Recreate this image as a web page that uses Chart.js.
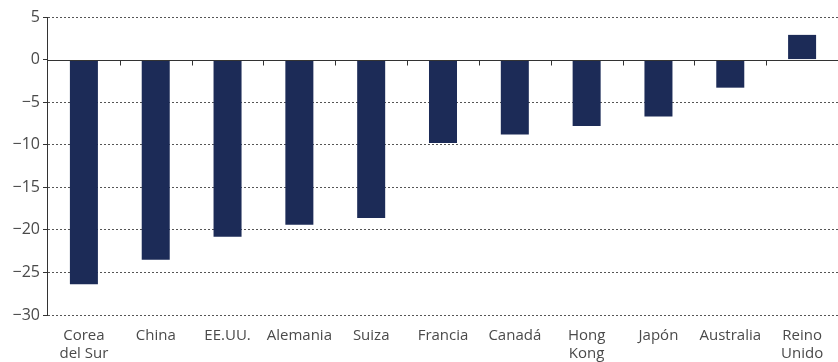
<!DOCTYPE html>
<html>
<head>
<meta charset="utf-8">
<script src="https://cdn.jsdelivr.net/npm/chart.js@4/dist/chart.umd.min.js"></script>
<style>
  html, body { margin: 0; padding: 0; background: #fff; }
  #wrap { width: 838px; height: 362px; }
</style>
</head>
<body>
<div id="wrap"><canvas id="BarChart"></canvas></div>
<script>
// Countries and their values
const countries = [['Corea', 'del Sur'], 'China', 'EE.UU.', 'Alemania', 'Suiza', 'Francia', 'Canadá', ['Hong', 'Kong'], 'Japón', 'Australia', ['Reino', 'Unido']];
const values = [-26.4, -23.5, -20.8, -19.4, -18.6, -9.8, -8.8, -7.8, -6.7, -3.3, 2.9];
const yTicks = [5, 0, -5, -10, -15, -20, -25, -30];

const barColor = '#1c2b57';
const textColor = '#4a4a4a';

// Solid y axis, solid zero line and small tick marks between categories
const axisLines = {
    id: 'axisLines',
    afterDatasetsDraw(chart) {
        const { ctx, chartArea, scales } = chart;
        const y0 = Math.round(scales.y.getPixelForValue(0)) + 0.5;
        const xl = Math.round(chartArea.left) - 0.5;
        ctx.save();
        ctx.strokeStyle = '#333';
        ctx.lineWidth = 1;
        ctx.beginPath();
        ctx.moveTo(xl, chartArea.top);
        ctx.lineTo(xl, chartArea.bottom);
        ctx.moveTo(chartArea.left, y0);
        ctx.lineTo(chartArea.right, y0);
        const step = (chartArea.right - chartArea.left) / countries.length;
        for (let i = 1; i < countries.length; i++) {
            const x = Math.round(chartArea.left + step * i) + 0.5;
            ctx.moveTo(x, y0);
            ctx.lineTo(x, y0 + 5);
        }
        ctx.stroke();
        ctx.restore();
    }
};

const barData = {
    labels: countries,
    datasets: [{
        data: values,
        backgroundColor: barColor,
        borderWidth: 0,
        barPercentage: 0.39,
        categoryPercentage: 1
    }]
};

const barConfig = {
    type: 'bar',
    data: barData,
    plugins: [axisLines],
    options: {
        responsive: true,
        maintainAspectRatio: false,
        animation: false,
        layout: { padding: { top: 17, right: 0, left: 0, bottom: 0 } },
        plugins: {
            legend: { display: false },
            tooltip: { enabled: false }
        },
        scales: {
            x: {
                grid: { display: false },
                border: { display: false },
                ticks: {
                    color: textColor,
                    font: { family: 'Open Sans', size: 15, lineHeight: 1.2 },
                    maxRotation: 0,
                    autoSkip: false,
                    padding: 4
                },
                afterFit(scale) { scale.height = 47; }
            },
            y: {
                min: -30,
                max: 5,
                afterBuildTicks(scale) {
                    scale.ticks = yTicks.map(v => ({ value: v }));
                },
                grid: {
                    color: ctx => ctx.tick && ctx.tick.value === 0 ? 'rgba(0,0,0,0)' : '#555',
                    lineWidth: 1,
                    tickLength: 5,
                    tickColor: '#333',
                    tickBorderDash: []
                },
                border: { display: false, dash: [2, 2] },
                ticks: {
                    color: textColor,
                    font: { family: 'Open Sans', size: 16 },
                    padding: 3,
                    callback: v => String(v).replace('-', '\u2212')
                },
                afterFit(scale) { scale.width = 48; }
            }
        }
    }
};

new Chart(document.getElementById('BarChart').getContext('2d'), barConfig);
</script>
</body>
</html>
